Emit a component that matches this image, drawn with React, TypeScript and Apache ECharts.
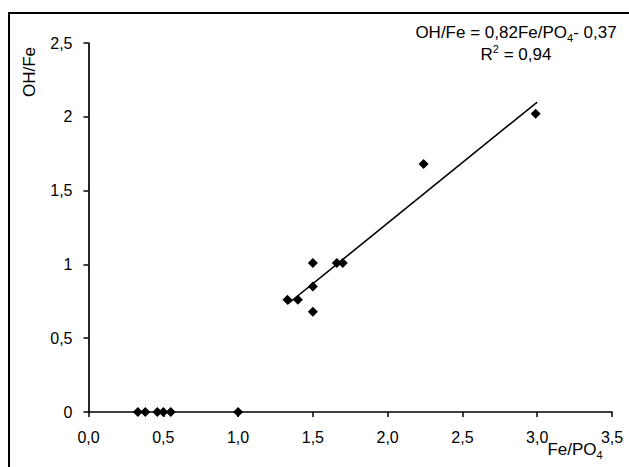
import React, { useEffect, useRef } from "react";
import * as echarts from "echarts";

const xValues = [0.33, 0.38, 0.46, 0.5, 0.55, 1.0, 1.33, 1.4, 1.5, 1.5, 1.5, 1.66, 1.7, 2.24, 2.99];
const yValues = [0, 0, 0, 0, 0, 0, 0.76, 0.76, 1.01, 0.85, 0.68, 1.01, 1.01, 1.68, 2.02];
const trendX = [1.33, 3.0];
const trendY = [0.73, 2.1];
const xTickLabels = ["0,0", "0,5", "1,0", "1,5", "2,0", "2,5", "3,0", "3,5"];
const yTickLabels = ["0", "0,5", "1", "1,5", "2", "2,5"];
const equationText = "OH/Fe = 0,82Fe/PO{sub|4}- 0,37";
const r2Text = "R{sup|2} = 0,94";
const xName = "Fe/PO{sub|4}";
const yName = "OH/Fe";

const FONT = "'Liberation Sans', Arial, sans-serif";

export default function App() {
  const ref = useRef<HTMLDivElement>(null);
  useEffect(() => {
    const chart = echarts.init(ref.current!, null, { renderer: "svg" });
    const axisLine = { show: true, lineStyle: { color: "#000", width: 1.7 } };
    chart.setOption({
      animation: false,
      backgroundColor: "#fff",
      grid: { left: 88.5, right: 17, top: 43, bottom: 55, containLabel: false },
      xAxis: {
        type: "value",
        min: 0,
        max: 3.5,
        interval: 0.5,
        axisLine,
        axisTick: { show: true, length: 5, inside: false, lineStyle: { color: "#000", width: 1.5 } },
        splitLine: { show: false },
        axisLabel: {
          color: "#000",
          fontSize: 16,
          fontFamily: FONT,
          margin: 17,
          formatter: (v: number) => xTickLabels[Math.round(v / 0.5)] ?? "",
        },
      },
      yAxis: {
        type: "value",
        min: 0,
        max: 2.5,
        interval: 0.5,
        axisLine,
        axisTick: { show: true, length: 5, inside: false, lineStyle: { color: "#000", width: 1.5 } },
        splitLine: { show: false },
        axisLabel: {
          color: "#000",
          fontSize: 16,
          fontFamily: FONT,
          margin: 16,
          formatter: (v: number) => yTickLabels[Math.round(v / 0.5)] ?? "",
        },
      },
      series: [
        {
          type: "line",
          data: trendX.map((x, i) => [x, trendY[i]]),
          symbol: "none",
          lineStyle: { color: "#000", width: 1.6 },
          z: 3,
        },
        {
          type: "scatter",
          data: xValues.map((x, i) => [x, yValues[i]]),
          symbol: "diamond",
          symbolSize: 10,
          itemStyle: { color: "#000", opacity: 1 },
          clip: false,
          z: 4,
        },
      ],
      graphic: [
        {
          type: "rect",
          shape: { x: 9, y: 13, width: 700, height: 500 },
          style: { fill: "none", stroke: "#000", lineWidth: 2 },
          silent: true,
        },
        {
          type: "text",
          x: 516,
          y: 32.5,
          style: {
            text: equationText,
            fontSize: 17,
            fontFamily: FONT,
            fill: "#000",
            align: "center",
            verticalAlign: "middle",
            lineHeight: 22,
            rich: {
              sub: { fontSize: 11, lineHeight: 11, verticalAlign: "bottom", fontFamily: FONT, fill: "#000" },
            },
          },
        },
        {
          type: "text",
          x: 516,
          y: 54.5,
          style: {
            text: r2Text,
            fontSize: 17,
            fontFamily: FONT,
            fill: "#000",
            align: "center",
            verticalAlign: "middle",
            lineHeight: 22,
            rich: {
              sup: { fontSize: 11, lineHeight: 16, verticalAlign: "top", fontFamily: FONT, fill: "#000" },
            },
          },
        },
        {
          type: "text",
          x: 575,
          y: 449,
          style: {
            text: xName,
            fontSize: 17,
            fontFamily: FONT,
            fill: "#000",
            align: "center",
            verticalAlign: "middle",
            lineHeight: 22,
            rich: {
              sub: { fontSize: 11, lineHeight: 11, verticalAlign: "bottom", fontFamily: FONT, fill: "#000" },
            },
          },
        },
        {
          type: "text",
          x: 29,
          y: 72,
          rotation: Math.PI / 2,
          style: {
            text: yName,
            fontSize: 17,
            fontFamily: FONT,
            fill: "#000",
            align: "center",
            verticalAlign: "middle",
          },
        },
      ],
    });
    return () => chart.dispose();
  }, []);
  return (
    <div
      ref={ref}
      style={{ position: "fixed", left: 0, top: 0, width: 629, height: 467, background: "#fff" }}
    />
  );
}
